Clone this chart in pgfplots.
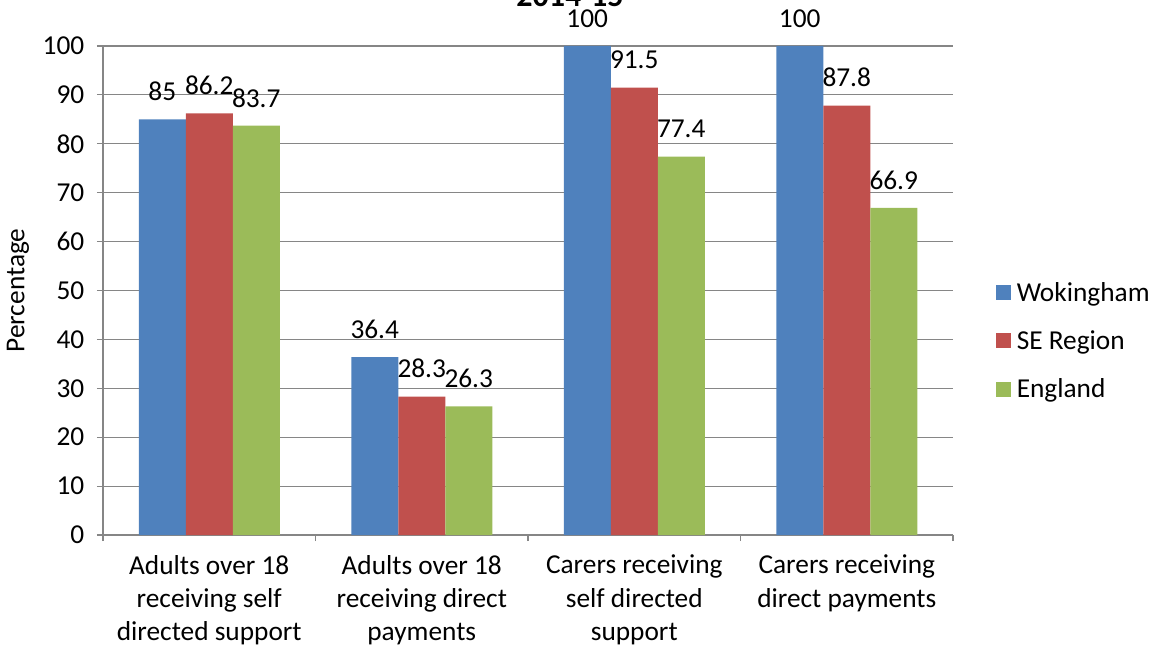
\documentclass[border=0pt]{standalone}
\usepackage{pgfplots}
\pgfplotsset{compat=1.18}
\usepackage{fontspec}
\setmainfont{Carlito}
\definecolor{wok}{RGB}{79,129,189}
\definecolor{sereg}{RGB}{192,80,77}
\definecolor{eng}{RGB}{155,187,89}
\definecolor{axgray}{RGB}{134,134,134}
\newcommand{\lblfont}{\fontsize{20.5}{25}\selectfont}
\begin{document}
\begin{tikzpicture}
\begin{axis}[
  at={(0,0)}, anchor=south west,
  scale only axis, width=637.5pt, height=366.75pt,
  xmin=-0.5, xmax=3.5, ymin=0, ymax=100,
  ybar=0pt, bar width=35.25pt,
  axis x line*=bottom, axis y line*=left,
  axis line style={draw=axgray, line width=0.8pt},
  tick align=outside,
  major tick length=4.5pt, minor tick length=4.5pt,
  ytick={0,10,...,100},
  /pgf/number format/assume math mode=true,
  ymajorgrids, grid style={draw=axgray, line width=0.8pt},
  every tick/.style={draw=axgray, line width=0.8pt},
  xtick={0,1,2,3},
  every major x tick/.style={draw=none},
  minor xtick={-0.5,0.5,1.5,2.5,3.5},
  xticklabels={{Adults over 18\\receiving self\\directed support},
               {Adults over 18\\receiving direct\\payments},
               {Carers receiving\\self directed\\support},
               {Carers receiving\\direct payments}},
  xticklabel style={align=center, font=\lblfont, yshift=-7pt},
  yticklabel style={font=\lblfont, xshift=-6pt},
  ylabel={Percentage},
  ylabel style={at={(axis description cs:-0.1,0.5)}, anchor=center, font=\lblfont},
  nodes near coords,
  every node near coord/.append style={anchor=base, yshift=14pt, font=\lblfont, text=black},
  point meta=explicit symbolic,
  legend style={draw=none, at={(rel axis cs:1.05,0.397)}, anchor=west,
    font=\lblfont, row sep=16.5pt, column sep=2.5pt, inner sep=0pt},
  legend cell align=left,
  legend image code/.code={\path[#1, draw=none] (0pt,-5.6pt) rectangle (11.25pt,5.6pt);},
]
\addplot[fill=wok, draw=none] coordinates {(0,85) [85] (1,36.4) [36.4] (2,100) [100] (3,100) [100]};
\addplot[fill=sereg, draw=none] coordinates {(0,86.2) [86.2] (1,28.3) [28.3] (2,91.5) [91.5] (3,87.8) [87.8]};
\addplot[fill=eng, draw=none] coordinates {(0,83.7) [83.7] (1,26.3) [26.3] (2,77.4) [77.4] (3,66.9) [66.9]};
\legend{Wokingham, SE Region, England}
\end{axis}
% chart title, partly above the page edge
\node[anchor=base, font=\fontsize{24}{28}\selectfont\bfseries] at (350.25pt,396pt) {2014-15};
\pgfresetboundingbox
\useasboundingbox (-77.25pt,-83.25pt) rectangle (789.75pt,401.25pt);
\end{tikzpicture}
\end{document}
